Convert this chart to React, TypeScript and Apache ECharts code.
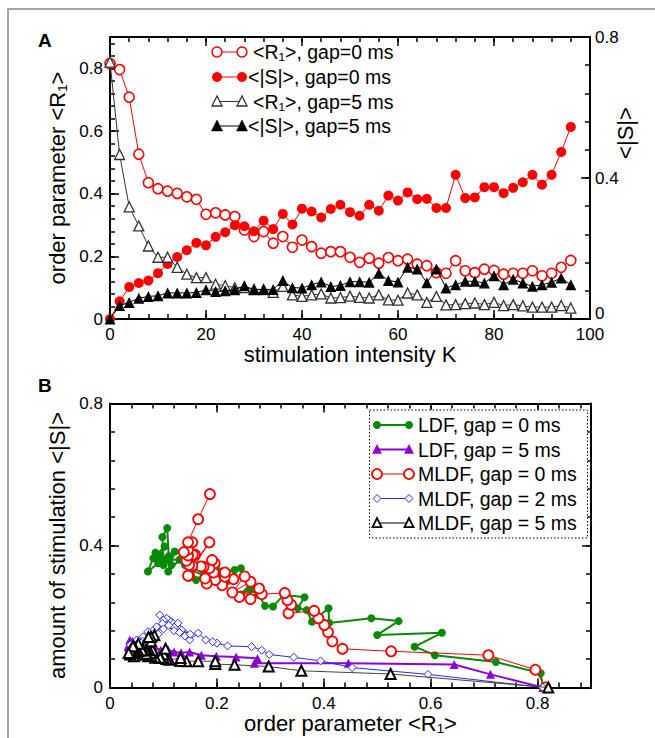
import React, { useEffect, useRef } from "react";
import * as echarts from "echarts";

// ---------- Panel A data (stimulation intensity K) ----------
const K = [0, 2, 4, 6, 8, 10, 12, 14, 16, 18, 20, 22, 24, 26, 28, 30, 32, 34, 36, 38, 40, 42, 44, 46, 48, 50, 52, 54, 56, 58, 60, 62, 64, 66, 68, 70, 72, 74, 76, 78, 80, 82, 84, 86, 88, 90, 92, 94, 96];
const R1_GAP0 = [0.815, 0.796, 0.708, 0.526, 0.435, 0.416, 0.408, 0.401, 0.39, 0.382, 0.334, 0.339, 0.332, 0.327, 0.284, 0.263, 0.279, 0.242, 0.263, 0.229, 0.252, 0.231, 0.21, 0.215, 0.215, 0.197, 0.181, 0.194, 0.178, 0.196, 0.186, 0.191, 0.175, 0.17, 0.148, 0.146, 0.186, 0.154, 0.148, 0.159, 0.155, 0.143, 0.146, 0.146, 0.154, 0.138, 0.146, 0.165, 0.187];
const S_GAP0 = [0, 0.05, 0.091, 0.102, 0.109, 0.13, 0.156, 0.176, 0.195, 0.216, 0.209, 0.233, 0.246, 0.266, 0.263, 0.249, 0.279, 0.255, 0.298, 0.268, 0.313, 0.305, 0.288, 0.312, 0.324, 0.303, 0.293, 0.324, 0.307, 0.35, 0.336, 0.359, 0.34, 0.341, 0.315, 0.315, 0.409, 0.343, 0.345, 0.374, 0.374, 0.357, 0.372, 0.388, 0.409, 0.381, 0.409, 0.474, 0.545];
const R1_GAP5 = [0.82, 0.525, 0.358, 0.297, 0.233, 0.197, 0.197, 0.165, 0.143, 0.132, 0.132, 0.111, 0.106, 0.1, 0.1, 0.095, 0.094, 0.085, 0.104, 0.077, 0.072, 0.077, 0.08, 0.067, 0.068, 0.073, 0.069, 0.067, 0.077, 0.061, 0.06, 0.083, 0.077, 0.053, 0.072, 0.045, 0.046, 0.049, 0.051, 0.046, 0.053, 0.043, 0.046, 0.042, 0.038, 0.038, 0.038, 0.043, 0.035];
const S_GAP5 = [0, 0.038, 0.047, 0.059, 0.064, 0.066, 0.074, 0.074, 0.074, 0.075, 0.083, 0.078, 0.08, 0.083, 0.094, 0.083, 0.084, 0.084, 0.109, 0.089, 0.088, 0.097, 0.105, 0.092, 0.095, 0.106, 0.106, 0.104, 0.13, 0.109, 0.105, 0.147, 0.142, 0.103, 0.142, 0.088, 0.097, 0.107, 0.107, 0.102, 0.123, 0.097, 0.113, 0.102, 0.093, 0.097, 0.104, 0.116, 0.097];

// ---------- Panel B data (order parameter vs amount of stimulation) ----------
const LDF0_R = [0.81, 0.806, 0.722, 0.608, 0.57, 0.621, 0.5, 0.54, 0.489, 0.41, 0.409, 0.378, 0.368, 0.351, 0.364, 0.325, 0.305, 0.29, 0.278, 0.262, 0.245, 0.264, 0.245, 0.233, 0.205, 0.22, 0.19, 0.161, 0.175, 0.15, 0.14, 0.137, 0.121, 0.109, 0.13, 0.106, 0.115, 0.095, 0.102, 0.081, 0.09, 0.071, 0.085, 0.1, 0.098, 0.107, 0.11, 0.092, 0.1];
const LDF0_S = [0, 0.04, 0.072, 0.091, 0.115, 0.154, 0.148, 0.187, 0.195, 0.182, 0.223, 0.185, 0.218, 0.223, 0.254, 0.261, 0.228, 0.23, 0.261, 0.275, 0.262, 0.29, 0.336, 0.331, 0.327, 0.3, 0.31, 0.303, 0.318, 0.33, 0.345, 0.378, 0.383, 0.327, 0.36, 0.36, 0.345, 0.37, 0.397, 0.364, 0.35, 0.327, 0.38, 0.36, 0.424, 0.449, 0.37, 0.355, 0.345];
const LDF5_R = [0.81, 0.712, 0.644, 0.446, 0.27, 0.276, 0.236, 0.199, 0.171, 0.149, 0.133, 0.12, 0.109, 0.095, 0.081, 0.07, 0.062, 0.055, 0.05, 0.045, 0.04, 0.037, 0.034, 0.04, 0.045, 0.05, 0.038, 0.042, 0.035, 0.048, 0.055, 0.06, 0.065, 0.052, 0.044, 0.036, 0.041, 0.047, 0.058, 0.039, 0.043, 0.05, 0.056, 0.046, 0.037, 0.042, 0.049, 0.053, 0.04];
const LDF5_S = [0, 0.037, 0.065, 0.068, 0.068, 0.082, 0.086, 0.088, 0.091, 0.1, 0.098, 0.1, 0.105, 0.105, 0.115, 0.11, 0.129, 0.115, 0.12, 0.11, 0.125, 0.134, 0.115, 0.1, 0.12, 0.105, 0.108, 0.13, 0.12, 0.115, 0.125, 0.11, 0.118, 0.128, 0.103, 0.112, 0.122, 0.108, 0.116, 0.126, 0.117, 0.112, 0.121, 0.106, 0.119, 0.111, 0.124, 0.109, 0.114];
const MLDF2_R = [0.81, 0.595, 0.453, 0.394, 0.344, 0.298, 0.284, 0.265, 0.22, 0.2, 0.192, 0.179, 0.165, 0.149, 0.14, 0.134, 0.15, 0.127, 0.12, 0.115, 0.11, 0.106, 0.1, 0.093, 0.098, 0.12, 0.13, 0.11, 0.087, 0.1, 0.08, 0.071, 0.09, 0.062, 0.075, 0.05, 0.06, 0.043, 0.05, 0.055, 0.045, 0.065, 0.04, 0.052, 0.058, 0.047, 0.038, 0.044, 0.05];
const MLDF2_S = [0, 0.037, 0.056, 0.075, 0.085, 0.093, 0.105, 0.115, 0.117, 0.125, 0.129, 0.134, 0.153, 0.134, 0.145, 0.162, 0.15, 0.181, 0.17, 0.185, 0.19, 0.195, 0.19, 0.204, 0.18, 0.16, 0.155, 0.175, 0.171, 0.165, 0.16, 0.157, 0.15, 0.143, 0.145, 0.134, 0.13, 0.124, 0.12, 0.128, 0.115, 0.122, 0.118, 0.11, 0.125, 0.116, 0.12, 0.112, 0.118];

// ---------- Texts ----------
const LEGEND_A = ["<R\u2081>, gap=0 ms", "<|S|>, gap=0 ms", "<R\u2081>, gap=5 ms", "<|S|>, gap=5 ms"];
const LEGEND_B = ["LDF, gap = 0 ms", "LDF, gap = 5 ms", "MLDF, gap = 0 ms", "MLDF, gap = 2 ms", "MLDF, gap = 5 ms"];
const RIGHT_TITLE_A = "<|S|>";

const FONT = '"Liberation Sans", Arial, Helvetica, sans-serif';
const RED = "#ff0000";
const GREEN = "#078a07";
const PURPLE = "#9000d8";
const BLUE = "#2a2aff";

function pairs(xs: number[], ys: number[]) {
  return xs.map((x, i) => [x, ys[i]]);
}

type AxOpt = {
  grid: number; position: string; min: number; max: number; interval: number; len: number;
  labels?: boolean; hideMax?: boolean; name?: string; nameGap?: number; line?: boolean; margin?: number;
  liftZero?: boolean;
};
function mkAxis(o: AxOpt) {
  return {
    type: "value",
    gridIndex: o.grid,
    position: o.position,
    min: o.min,
    max: o.max,
    interval: o.interval,
    axisLine: { show: !!o.line, onZero: false, lineStyle: { color: "#000", width: 2 } },
    axisTick: { show: true, inside: true, length: o.len, lineStyle: { color: "#000", width: 1.5 } },
    axisLabel: {
      show: !!o.labels, fontSize: 17, color: "#000", fontFamily: FONT, margin: o.margin ?? 6,
      showMaxLabel: !o.hideMax,
      formatter: o.liftZero ? (v: number) => (v === 0 ? "{z|0}" : String(v)) : undefined,
      rich: o.liftZero ? { z: { fontSize: 17, fontFamily: FONT, color: "#000", padding: [0, 0, 12, 0] } } : undefined,
    },
    splitLine: { show: false },
    name: o.name,
    nameLocation: "middle",
    nameGap: o.nameGap,
    nameTextStyle: { fontSize: 22, color: "#000", fontFamily: FONT },
  };
}

function tri(cx: number, cy: number, s: number) {
  return [[cx, cy - s * 0.55], [cx + s * 0.5, cy + s * 0.45], [cx - s * 0.5, cy + s * 0.45]];
}
function dia(cx: number, cy: number, s: number) {
  return [[cx, cy - s / 2], [cx + s / 2, cy], [cx, cy + s / 2], [cx - s / 2, cy]];
}

function legendRow(x1: number, x2: number, y: number, kind: string, color: string, lw: number, fill: string, size: number, text: string, tx: number, fs: number, bw = 1.5) {
  const els: any[] = [
    { type: "line", shape: { x1, y1: y, x2, y2: y }, style: { stroke: color, lineWidth: lw } },
  ];
  for (const cx of [x1, x2]) {
    if (kind === "circle") {
      els.push({ type: "circle", shape: { cx, cy: y, r: size / 2 }, style: { fill, stroke: color, lineWidth: fill === color ? 0 : bw } });
    } else if (kind === "triangle") {
      els.push({ type: "polygon", shape: { points: tri(cx, y, size) }, style: { fill, stroke: color, lineWidth: fill === color ? 0.5 : bw } });
    } else if (kind === "diamond") {
      els.push({ type: "polygon", shape: { points: dia(cx, y, size) }, style: { fill, stroke: color, lineWidth: 1 } });
    }
  }
  els.push({
    type: "text",
    style: { text, x: tx, y, fontSize: fs, fontFamily: FONT, fill: "#000", verticalAlign: "middle", align: "left" },
  });
  return els;
}

export default function App() {
  const ref = useRef<HTMLDivElement>(null);
  useEffect(() => {
    const chart = echarts.init(ref.current!, null, { renderer: "svg" });

    const xAxis = [
      mkAxis({ grid: 0, position: "bottom", min: 0, max: 100, interval: 20, len: 9, labels: true, line: true, name: "stimulation intensity K", nameGap: 23, margin: 7 }),
      mkAxis({ grid: 0, position: "bottom", min: 0, max: 100, interval: 4, len: 5 }),
      mkAxis({ grid: 0, position: "top", min: 0, max: 100, interval: 20, len: 9, line: true }),
      mkAxis({ grid: 0, position: "top", min: 0, max: 100, interval: 4, len: 5 }),
      mkAxis({ grid: 1, position: "bottom", min: 0, max: 0.9, interval: 0.2, len: 9, labels: true, hideMax: true, line: true, name: "order parameter <R\u2081>", nameGap: 23, margin: 7 }),
      mkAxis({ grid: 1, position: "bottom", min: 0, max: 0.9, interval: 0.04, len: 5 }),
      mkAxis({ grid: 1, position: "top", min: 0, max: 0.9, interval: 0.2, len: 9, line: true }),
      mkAxis({ grid: 1, position: "top", min: 0, max: 0.9, interval: 0.04, len: 5 }),
    ];
    const yAxis = [
      mkAxis({ grid: 0, position: "left", min: 0, max: 0.9, interval: 0.2, len: 9, labels: true, hideMax: true, line: true, name: "order parameter <R\u2081>", nameGap: 38, margin: 7 }),
      mkAxis({ grid: 0, position: "left", min: 0, max: 0.9, interval: 0.04, len: 5 }),
      mkAxis({ grid: 0, position: "right", min: 0, max: 0.8, interval: 0.4, len: 9, labels: true, line: true, margin: 5, liftZero: true }),
      mkAxis({ grid: 0, position: "right", min: 0, max: 0.8, interval: 0.08, len: 5 }),
      mkAxis({ grid: 1, position: "left", min: 0, max: 0.8, interval: 0.4, len: 9, labels: true, line: true, name: "amount of stimulation <|S|>", nameGap: 38, margin: 7 }),
      mkAxis({ grid: 1, position: "left", min: 0, max: 0.8, interval: 0.08, len: 5 }),
      mkAxis({ grid: 1, position: "right", min: 0, max: 0.8, interval: 0.4, len: 9, line: true }),
      mkAxis({ grid: 1, position: "right", min: 0, max: 0.8, interval: 0.08, len: 5 }),
    ];

    const series: any[] = [
      {
        type: "line", xAxisIndex: 0, yAxisIndex: 0, data: pairs(K, R1_GAP0), clip: false,
        symbol: "circle", symbolSize: 10, itemStyle: { color: "#fff", borderColor: RED, borderWidth: 1.6 },
        lineStyle: { color: RED, width: 1 }, z: 2,
      },
      {
        type: "line", xAxisIndex: 0, yAxisIndex: 2, data: pairs(K, S_GAP0), clip: false,
        symbol: "circle", symbolSize: 10, itemStyle: { color: RED, borderWidth: 0 },
        lineStyle: { color: RED, width: 1 }, z: 3,
      },
      {
        type: "line", xAxisIndex: 0, yAxisIndex: 0, data: pairs(K, R1_GAP5), clip: false,
        symbol: "triangle", symbolSize: 10, itemStyle: { color: "#fff", borderColor: "#333", borderWidth: 1.3 },
        lineStyle: { color: "#333", width: 1 }, z: 4,
      },
      {
        type: "line", xAxisIndex: 0, yAxisIndex: 2, data: pairs(K, S_GAP5), clip: false,
        symbol: "triangle", symbolSize: 11, itemStyle: { color: "#000", borderWidth: 0 },
        lineStyle: { color: "#000", width: 1 }, z: 5,
      },
      {
        type: "line", xAxisIndex: 4, yAxisIndex: 4, data: pairs(LDF0_R, LDF0_S), clip: false,
        symbol: "circle", symbolSize: 8, itemStyle: { color: GREEN, borderWidth: 0 },
        lineStyle: { color: GREEN, width: 2 }, z: 2,
      },
      {
        type: "line", xAxisIndex: 4, yAxisIndex: 4, data: pairs(LDF5_R, LDF5_S), clip: false,
        symbol: "triangle", symbolSize: 9, itemStyle: { color: PURPLE, borderWidth: 0 },
        lineStyle: { color: PURPLE, width: 2 }, z: 3,
      },
      {
        type: "line", xAxisIndex: 4, yAxisIndex: 4, data: pairs(R1_GAP0, S_GAP0), clip: false,
        symbol: "circle", symbolSize: 10, itemStyle: { color: "#fff", borderColor: RED, borderWidth: 1.8 },
        lineStyle: { color: RED, width: 1 }, z: 4,
      },
      {
        type: "line", xAxisIndex: 4, yAxisIndex: 4, data: pairs(MLDF2_R, MLDF2_S), clip: false,
        symbol: "diamond", symbolSize: 8, itemStyle: { color: "#fff", borderColor: BLUE, borderWidth: 1 },
        lineStyle: { color: BLUE, width: 1 }, z: 5,
      },
      {
        type: "line", xAxisIndex: 4, yAxisIndex: 4, data: pairs(R1_GAP5, S_GAP5), clip: false,
        symbol: "triangle", symbolSize: 10, itemStyle: { color: "#fff", borderColor: "#000", borderWidth: 2 },
        lineStyle: { color: "#444", width: 1 }, z: 6,
      },
    ];

    const graphics: any[] = [
      { type: "rect", shape: { x: 8, y: 9, width: 720, height: 800 }, style: { fill: "none", stroke: "#888", lineWidth: 1.5 }, silent: true },
      { type: "text", style: { text: "A", x: 38, y: 40, fontSize: 19, fontWeight: "bold", fontFamily: FONT, fill: "#000", verticalAlign: "middle" } },
      { type: "text", style: { text: "B", x: 38, y: 385, fontSize: 19, fontWeight: "bold", fontFamily: FONT, fill: "#000", verticalAlign: "middle" } },
      {
        type: "text", x: 625, y: 133, rotation: Math.PI / 2,
        style: { text: RIGHT_TITLE_A, x: 0, y: 0, fontSize: 22, fontFamily: FONT, fill: "#000", align: "center", verticalAlign: "middle" },
      },
      ...legendRow(217, 242, 52, "circle", RED, 1, "#fff", 10, LEGEND_A[0], 253, 19.5),
      ...legendRow(217, 242, 77, "circle", RED, 1, RED, 10, LEGEND_A[1], 248, 19.5),
      ...legendRow(217, 242, 101.5, "triangle", "#333", 1, "#fff", 10, LEGEND_A[2], 253, 19.5, 1.3),
      ...legendRow(217, 242, 126, "triangle", "#000", 1, "#000", 11, LEGEND_A[3], 248, 19.5),
      { type: "rect", shape: { x: 369.5, y: 410, width: 218, height: 128 }, style: { fill: "#fff", stroke: "#000", lineWidth: 1, lineDash: [1.5, 2] }, z: 10 },
      ...legendRow(377, 409, 425, "circle", GREEN, 2, GREEN, 8, LEGEND_B[0], 418, 19.5).map((e) => ({ ...e, z: 11 })),
      ...legendRow(377, 409, 449.5, "triangle", PURPLE, 2, PURPLE, 9, LEGEND_B[1], 418, 19.5).map((e) => ({ ...e, z: 11 })),
      ...legendRow(377, 409, 474, "circle", RED, 1, "#fff", 10, LEGEND_B[2], 418, 19.5, 1.8).map((e) => ({ ...e, z: 11 })),
      ...legendRow(377, 409, 498.5, "diamond", BLUE, 1, "#fff", 8, LEGEND_B[3], 418, 19.5).map((e) => ({ ...e, z: 11 })),
      ...legendRow(377, 409, 523, "triangle", "#000", 1, "#fff", 9, LEGEND_B[4], 418, 19.5, 1.8).map((e) => ({ ...e, z: 11 })),
    ];

    chart.setOption({
      animation: false,
      backgroundColor: "#fff",
      textStyle: { fontFamily: FONT },
      grid: [
        { left: 110, top: 37, width: 480, height: 282 },
        { left: 110, top: 403.5, width: 481, height: 284 },
      ],
      xAxis,
      yAxis,
      series,
      graphic: graphics,
    });
    return () => chart.dispose();
  }, []);
  return (
    <div
      ref={ref}
      style={{ position: "fixed", left: 0, top: 0, width: 655, height: 738, background: "#fff" }}
    />
  );
}
